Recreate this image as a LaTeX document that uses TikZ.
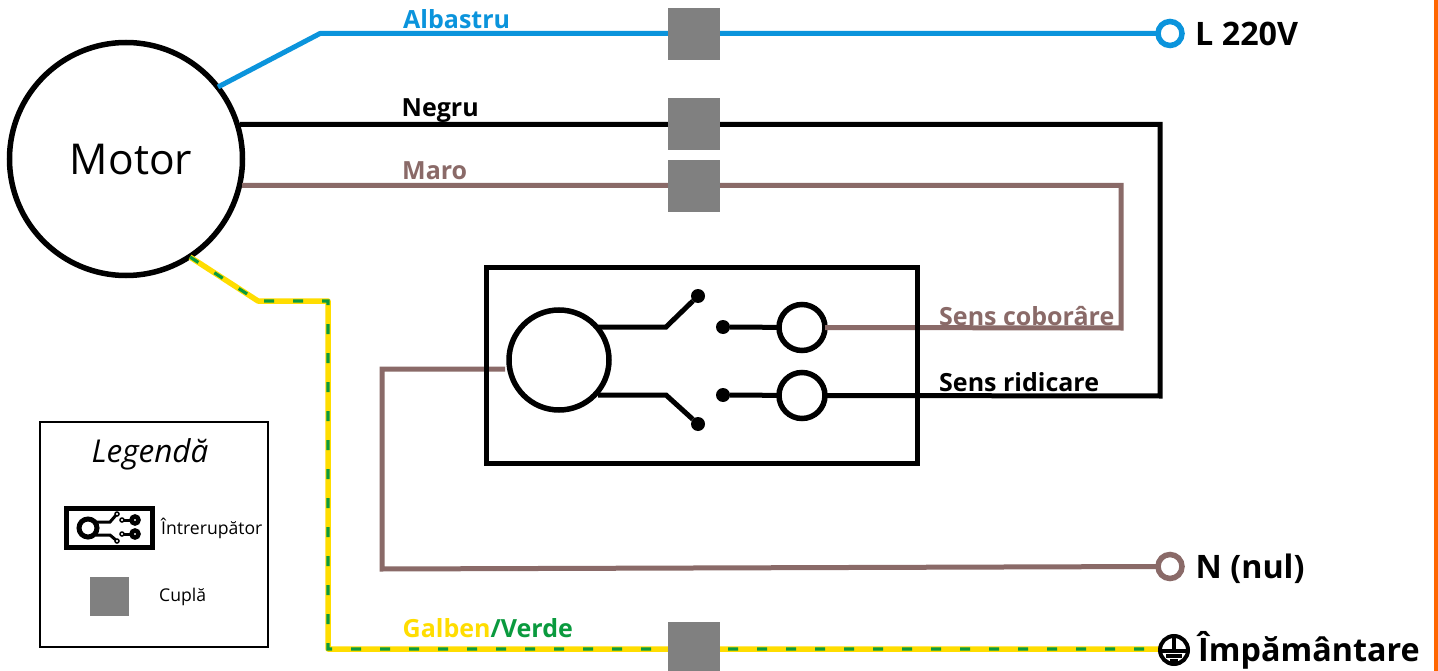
\documentclass[tikz,border=0pt]{standalone}
\usepackage{fontspec}
\usetikzlibrary{calc}
\setmainfont{Open Sans}
\definecolor{wblue}{HTML}{0B94DC}
\definecolor{wbrown}{HTML}{8A6A68}
\definecolor{wyellow}{HTML}{FFDD00}
\definecolor{wgreen}{HTML}{0A9A3E}
\definecolor{cgray}{HTML}{808080}
\definecolor{edgeorange}{HTML}{FF6600}
\tikzset{
  blackwire/.style={draw=black,line width=5pt,line join=miter},
  brownwire/.style={draw=wbrown,line width=5pt,line join=miter},
  bluewire/.style={draw=wblue,line width=5pt,line join=round},
  yellowwire/.style={draw=wyellow,line width=5.5pt,line join=round},
  greenwire/.style={draw=wgreen,line width=3.2pt,dash pattern=on 10pt off 19pt},
  coupler/.style={fill=cgray,draw=none,minimum size=52pt,inner sep=0pt,outer sep=0pt,rectangle},
  term/.style={circle,draw,line width=5.5pt,fill=white,minimum size=24pt,inner sep=0pt,outer sep=0pt},
  ring/.style={circle,draw=black,line width=5.5pt,fill=white,inner sep=0pt,outer sep=0pt},
  dot/.style={circle,fill=black,minimum size=14pt,inner sep=0pt,outer sep=0pt},
  swline/.style={draw=black,line width=5pt},
  wirelabel/.style={font=\bfseries\fontsize{25}{27}\selectfont,anchor=base west,inner sep=0pt},
  endlabel/.style={font=\bfseries\fontsize{32.3}{34}\selectfont,anchor=base west,inner sep=0pt},
  smalltext/.style={font=\fontsize{17.6}{19}\selectfont,anchor=base west,inner sep=0pt},
  licon/.style={draw=black,line width=5pt},
}
\begin{document}
\begin{tikzpicture}[x=1pt,y=-1pt]
\useasboundingbox (0,0) rectangle (1438,671);
\fill[white] (0,0) rectangle (1438,671);
\fill[edgeorange] (1433.5,0) rectangle (1437.5,671);

% motor and terminals
\node[ring,minimum size=233pt] (motor) at (126,159) {};
\node[font=\fontsize{42.5}{45}\selectfont,inner sep=0pt] (motorT) at (131,160) {Motor};
\node[term,draw=wblue] (tL) at (1170,33.5) {};
\node[term,draw=wbrown] (tN) at (1170,566.5) {};
\coordinate (tG) at (1160,649);

% bends
\coordinate (b1) at (320,33.5);
\coordinate (k1) at (1160,124.5);
\coordinate (k2) at (1160,396);
\coordinate (m1) at (1121,185.5);
\coordinate (m2) at (1121,328);
\coordinate (g1) at (258,301);
\coordinate (g2) at (328,301);
\coordinate (g3) at (328,649);
\coordinate (n1) at (382,369);
\coordinate (n2) at (382,569);
\coordinate (n0) at (505,369);
\coordinate (mBlue) at (218,87);
\coordinate (mBlack) at (240,124.5);
\coordinate (mBrown) at (242,185.5);
\coordinate (mGround) at (190,257);

% switch rings and dots
\node[ring,minimum size=100pt] (sw) at (559,360) {};
\node[ring,minimum size=46pt] (rUp) at (802,327.5) {};
\node[ring,minimum size=46pt] (rDn) at (802,395.5) {};
\node[dot] (dUp) at (698,296) {};
\node[dot] (dDn) at (698,424) {};
\node[dot] (cUp) at (723,327) {};
\node[dot] (cDn) at (723,395) {};
\coordinate (sUpA) at (598,327);
\coordinate (sUpB) at (666,327);
\coordinate (sDnA) at (598,395);
\coordinate (sDnB) at (666,395);

% wires
\draw[bluewire] (mBlue) -- (b1) -- (tL.west);
\draw[blackwire] (mBlack) -- (k1) -- (k2) -- (rDn.east);
\draw[brownwire] (mBrown) -- (m1) -- (m2) -- (rUp.east);
\draw[brownwire] (n0) -- (n1) -- (n2) -- (tN.west);
\draw[yellowwire] (mGround) -- (g1) -- (g2) -- (g3) -- (tG);
\draw[greenwire] (mGround) -- (g1) -- (g2) -- (g3) -- (tG);

% switch interior
\draw[swline,line join=miter] (sUpA) -- (sUpB) -- (dUp);
\draw[swline,line join=miter] (sDnA) -- (sDnB) -- (dDn);
\draw[swline] (cUp) -- (rUp);
\draw[swline] (cDn) -- (rDn);
\node[draw=black,line width=5pt,minimum width=431.5pt,minimum height=195.5pt,inner sep=0pt,outer sep=0pt] (swbox) at (702,365.25) {};

% couplers
\node[coupler] (c1) at (694,34) {};
\node[coupler] (c2) at (694,124) {};
\node[coupler] (c3) at (694,186) {};
\node[coupler,minimum height=49pt] (c4) at (694,646.5) {};

% wire labels
\node[wirelabel,text=wblue] (lAl) at (403,29) {Albastru};
\node[wirelabel] (lNe) at (401.5,117) {Negru};
\node[wirelabel,text=wbrown] (lMa) at (402,180) {Maro};
\node[wirelabel,text=wbrown] (lCo) at (939,325) {Sens coborâre};
\node[wirelabel] (lRi) at (939,391) {Sens ridicare};
\node[wirelabel] (lGa) at (402.5,637) {\textcolor{wyellow}{Galben}\textcolor{wgreen}{/Verde}};

% end labels
\node[endlabel] (lL) at (1195,45.5) {L 220V};
\node[endlabel] (lN) at (1195.5,578) {N (nul)};
\node[endlabel] (lI) at (1198,661) {Împământare};

% ground symbol
\node[circle,draw=black,line width=4pt,fill=white,minimum size=28pt,inner sep=0pt,outer sep=0pt] (gnd) at (1174,650) {};
\draw[line width=3.5pt] (gnd.north) -- ($(gnd)+(0,1)$);
\draw[line width=3.5pt] ($(gnd)+(-12,1)$) -- ($(gnd)+(12,1)$);
\draw[line width=3.5pt] ($(gnd)+(-8,6)$) -- ($(gnd)+(8,6)$);
\draw[line width=3.5pt] ($(gnd)+(-4,11)$) -- ($(gnd)+(4,11)$);

% legend
\node[draw=black,line width=1.2pt,minimum width=228pt,minimum height=225pt,inner sep=0pt,outer sep=0pt] (leg) at (154,534.5) {};
\node[font=\itshape\fontsize{31.5}{33}\selectfont,inner sep=0pt,anchor=base] (legT) at (150,462) {Legendă};
\node[draw=black,line width=5pt,minimum width=86pt,minimum height=39pt,inner sep=0pt,outer sep=0pt] (licon) at (109.5,528) {};
\node[circle,licon,minimum size=18pt,inner sep=0pt,outer sep=0pt] (lr) at (88,528) {};
\node[circle,draw=black,line width=4.5pt,fill=white,minimum size=7pt,inner sep=0pt,outer sep=0pt] (la) at (135,520) {};
\node[circle,draw=black,line width=4.5pt,fill=white,minimum size=7pt,inner sep=0pt,outer sep=0pt] (lb) at (135,534) {};
\node[circle,draw=black,line width=1.5pt,fill=white,minimum size=4pt,inner sep=0pt,outer sep=0pt] (la1) at (117,514) {};
\node[circle,draw=black,line width=1.5pt,fill=white,minimum size=4pt,inner sep=0pt,outer sep=0pt] (la2) at (122,520) {};
\node[circle,draw=black,line width=1.5pt,fill=white,minimum size=4pt,inner sep=0pt,outer sep=0pt] (lb2) at (122,534) {};
\node[circle,draw=black,line width=1.5pt,fill=white,minimum size=4pt,inner sep=0pt,outer sep=0pt] (lb1) at (117,541) {};
\coordinate (lk0) at (96,522);
\coordinate (lk1) at (110,522);
\coordinate (lk3) at (96,535);
\coordinate (lk2) at (110,535);
\draw[line width=3pt] (lk0) -- (lk1) -- (la1);
\draw[line width=3pt] (lk3) -- (lk2) -- (lb1);
\draw[line width=3pt] (la2) -- (la);
\draw[line width=3pt] (lb2) -- (lb);
\node[smalltext] (lgI) at (161,534) {Întrerupător};
\node[coupler,minimum size=39pt] (lgC) at (109.5,596.5) {};
\node[smalltext] (lgU) at (159,601) {Cuplă};
\end{tikzpicture}
\end{document}
